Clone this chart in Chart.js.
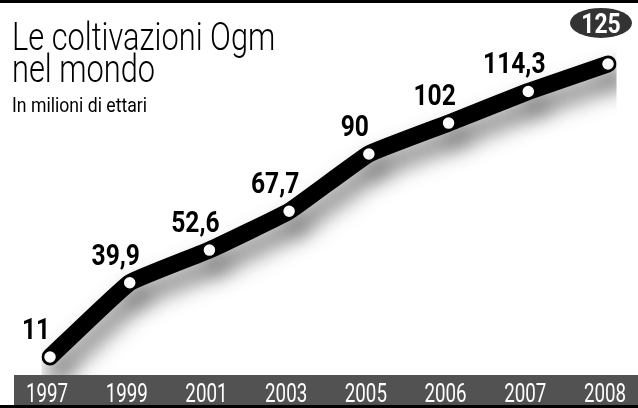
<!DOCTYPE html>
<html lang="it">
<head>
<meta charset="UTF-8">
<title>Le coltivazioni Ogm nel mondo</title>
<script src="https://cdn.jsdelivr.net/npm/chart.js"></script>
<style>
  body { margin: 0; background: #fff; }
  canvas { display: block; }
</style>
</head>
<body>
<canvas id="ogmChart" width="638" height="408"></canvas>
<script>
// dati: milioni di ettari coltivati a Ogm
const years = ["1997", "1999", "2001", "2003", "2005", "2006", "2007", "2008"];
const hectares = [11, 39.9, 52.6, 67.7, 90, 102, 114.3, 125];
const valueLabels = ["11", "39,9", "52,6", "67,7", "90", "102", "114,3", "125"];

const FONT = "Roboto, 'Noto Sans', sans-serif";

// testo "stretto" (compresso in orizzontale) come nel giornale
function narrowText(c, txt, x, y, sx, align) {
  c.save();
  c.translate(x, y);
  c.scale(sx, 1);
  c.textAlign = align || "left";
  c.fillText(txt, 0, 0);
  c.restore();
}

// cornice, fascia scura in basso, titolo e anni
const frame = {
  id: "frame",
  beforeDraw(chart) {
    const c = chart.ctx, w = chart.width, h = chart.height;
    const bottom = chart.chartArea.bottom;
    c.save();
    c.fillStyle = "#fff";
    c.fillRect(0, 0, w, h);
    c.fillStyle = "#525252";
    c.fillRect(14, bottom, w - 14, h - bottom);
    c.fillStyle = "#000";
    c.textBaseline = "alphabetic";
    c.font = "300 38px " + FONT;
    narrowText(c, "Le coltivazioni Ogm", 12, 50, 0.81);
    narrowText(c, "nel mondo", 12, 82, 0.81);
    c.font = "400 21px " + FONT;
    narrowText(c, "In milioni di ettari", 12, 112, 0.84);
    c.restore();
  },
  afterDraw(chart) {
    const c = chart.ctx, x = chart.scales.x, w = chart.width, h = chart.height;
    c.save();
    c.fillStyle = "#fff";
    c.font = "400 25px " + FONT;
    c.textBaseline = "alphabetic";
    x.getLabels().forEach((lab, i) => {
      narrowText(c, lab, x.getPixelForTick(i) - 3, 402, 0.75, "center");
    });
    c.fillStyle = "#000";
    c.fillRect(0, 0, w, 3);
    c.fillRect(0, h - 3, w, 3);
    c.restore();
  }
};

// ombra sotto la linea
const shadow = {
  id: "shadow",
  beforeDatasetDraw(chart) {
    const c = chart.ctx;
    c.save();
    c.shadowColor = "rgba(0,0,0,0.55)";
    c.shadowBlur = 22;
    c.shadowOffsetX = 8;
    c.shadowOffsetY = 14;
  },
  afterDatasetDraw(chart) {
    chart.ctx.restore();
  }
};

// etichette dei valori
const labelsPlugin = {
  id: "valueLabels",
  afterDatasetsDraw(chart) {
    const c = chart.ctx;
    const pts = chart.getDatasetMeta(0).data;
    c.save();
    c.textBaseline = "alphabetic";
    pts.forEach((p, i) => {
      if (i === pts.length - 1) {
        // ultimo valore nel bollino
        const bx = p.x - 7, by = p.y - 41;
        c.fillStyle = "#333";
        c.beginPath();
        c.ellipse(bx, by, 31, 15, 0, 0, Math.PI * 2);
        c.fill();
        c.fillStyle = "#fff";
        c.font = "700 27px " + FONT;
        narrowText(c, valueLabels[i], bx, by + 10, 0.85, "center");
      } else {
        c.fillStyle = "#000";
        c.font = "700 30px " + FONT;
        narrowText(c, valueLabels[i], p.x - 14, p.y - 18, 0.82, "center");
      }
    });
    c.restore();
  }
};

new Chart(document.getElementById("ogmChart"), {
  type: "line",
  data: {
    labels: years,
    datasets: [{
      data: hectares,
      borderColor: "#000",
      borderWidth: 17,
      borderCapStyle: "round",
      borderJoinStyle: "round",
      tension: 0.1,
      pointRadius: 6.5,
      pointBackgroundColor: "#fff",
      pointBorderColor: "#000",
      pointBorderWidth: 1.5,
      fill: false
    }]
  },
  options: {
    responsive: false,
    animation: false,
    events: [],
    layout: { padding: { left: 50, right: 30, top: 10, bottom: 33 } },
    plugins: {
      legend: { display: false },
      tooltip: { enabled: false }
    },
    scales: {
      x: {
        display: false,
        offset: false
      },
      y: {
        display: false,
        min: 4,
        max: 146
      }
    }
  },
  plugins: [frame, shadow, labelsPlugin]
});
</script>
</body>
</html>
